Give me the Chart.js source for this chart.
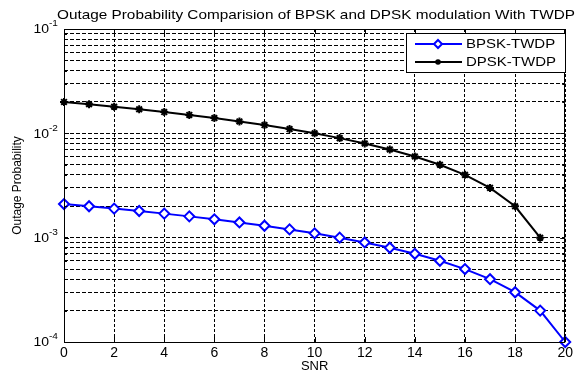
<!DOCTYPE html>
<html><head><meta charset="utf-8">
<script src="https://cdn.jsdelivr.net/npm/chart.js@4.4.0/dist/chart.umd.min.js"></script>
<style>html,body{margin:0;padding:0;background:#fff;overflow:hidden}canvas{display:block}</style>
</head><body>
<canvas id="c" width="576" height="374" style="width:576px;height:374px"></canvas>
<script>
// ---- data ----
const snr = [0,1,2,3,4,5,6,7,8,9,10,11,12,13,14,15,16,17,18,19,20];
const bpskTWDP = [0.0021,0.002,0.0019,0.0018,0.0017,0.0016,0.0015,0.0014,0.0013,0.0012,0.0011,0.001,0.0009,0.0008,0.0007,0.0006,0.0005,0.0004,0.0003,0.0002,0.0001];
const dpskTWDP = [0.02,0.019,0.018,0.017,0.016,0.015,0.014,0.013,0.012,0.011,0.010,0.009,0.008,0.007,0.006,0.005,0.004,0.003,0.002,0.001];
const xTickValues = [0,2,4,6,8,10,12,14,16,18,20];
const yGridValues = [1e-4,2e-4,3e-4,4e-4,5e-4,6e-4,7e-4,8e-4,9e-4,1e-3,2e-3,3e-3,4e-3,5e-3,6e-3,7e-3,8e-3,9e-3,1e-2,2e-2,3e-2,4e-2,5e-2,6e-2,7e-2,8e-2,9e-2,1e-1];
const yDecadeValues = [1e-1,1e-2,1e-3,1e-4];
const yDecadeExponents = ['-1','-2','-3','-4'];
const chartTitle = 'Outage Probability Comparision of BPSK and DPSK modulation With TWDP';
const seriesNames = ['BPSK-TWDP','DPSK-TWDP'];
const xAxisTitle = 'SNR';
const yAxisTitle = 'Outage Probability';

const FONT = '"Liberation Sans", Arial, sans-serif';
const BLUE = '#0000ff';

function toPoints(vals){ return vals.map((v,i)=>({x:snr[i], y:v})); }

function sText(ctx, txt, x, y, px, align, sx, baseline){
  ctx.save();
  ctx.font = px + 'px ' + FONT;
  ctx.fillStyle = '#000';
  ctx.textAlign = align;
  ctx.textBaseline = baseline || 'middle';
  ctx.translate(x, y);
  ctx.scale(sx, 1);
  ctx.fillText(txt, 0, 0);
  ctx.restore();
}

function diamond(ctx, x, y, r, stroke, fill, lw){
  ctx.save();
  ctx.beginPath();
  ctx.moveTo(x, y - r); ctx.lineTo(x + r, y); ctx.lineTo(x, y + r); ctx.lineTo(x - r, y); ctx.closePath();
  ctx.fillStyle = fill; ctx.fill();
  ctx.lineWidth = lw; ctx.strokeStyle = stroke; ctx.stroke();
  ctx.restore();
}

const decor = {
  id: 'decor',
  afterDraw(chart){
    const ctx = chart.ctx;
    const a = chart.chartArea;
    const xs = chart.scales.x, ys = chart.scales.y;
    ctx.save();
    // frame
    ctx.strokeStyle = '#000'; ctx.lineWidth = 1; ctx.setLineDash([]);
    ctx.strokeRect(Math.round(a.left) + 0.5, Math.round(a.top) + 0.5, Math.round(a.right - a.left) - 1, Math.round(a.bottom - a.top));
    // inward tick marks
    ctx.beginPath();
    xTickValues.forEach(v => {
      const px = Math.round(xs.getPixelForValue(v)) + 0.5;
      ctx.moveTo(px, a.bottom); ctx.lineTo(px, a.bottom - 5);
      ctx.moveTo(px, a.top); ctx.lineTo(px, a.top + 5);
    });
    yGridValues.forEach(v => {
      const py = Math.round(ys.getPixelForValue(v)) + 0.5;
      const len = yDecadeValues.includes(v) ? 5 : 3;
      ctx.moveTo(a.left, py); ctx.lineTo(a.left + len, py);
      ctx.moveTo(a.right, py); ctx.lineTo(a.right - len, py);
    });
    ctx.stroke();
    ctx.restore();

    // y decade labels 10^n
    yDecadeValues.forEach((v, i) => {
      const py = ys.getPixelForValue(v);
      sText(ctx, '10', 49, py + 1, 12.5, 'right', 1.12);
      sText(ctx, yDecadeExponents[i], 49, py - 5, 9, 'left', 1.12);
    });

    // title
    ctx.save();
    ctx.font = '13px ' + FONT;
    const w = ctx.measureText(chartTitle).width;
    ctx.restore();
    sText(ctx, chartTitle, 316, 15, 13, 'center', 518 / w);

    // legend
    const lx0 = 406.5, ly0 = 33.5, lx1 = 565.5, ly1 = 72.5;
    ctx.save();
    ctx.fillStyle = '#fff'; ctx.fillRect(lx0, ly0, lx1 - lx0, ly1 - ly0);
    ctx.strokeStyle = '#000'; ctx.lineWidth = 1; ctx.strokeRect(lx0, ly0, lx1 - lx0, ly1 - ly0);
    const rows = [44, 62];
    chart.data.datasets.forEach((ds, i) => {
      const y = rows[i];
      ctx.beginPath(); ctx.moveTo(415, y); ctx.lineTo(462, y);
      ctx.strokeStyle = ds.borderColor; ctx.lineWidth = 2; ctx.stroke();
      if (i === 0) diamond(ctx, 438, y, 4, ds.borderColor, '#fff', 2);
      else { ctx.beginPath(); ctx.arc(438, y, 2.8, 0, Math.PI * 2); ctx.fillStyle = '#000'; ctx.fill(); }
      sText(ctx, ds.label, 466, y + 1, 12.5, 'left', 1.2);
    });
    ctx.restore();
  }
};

new Chart(document.getElementById('c'), {
  type: 'line',
  data: {
    datasets: [
      { label: seriesNames[0], data: toPoints(bpskTWDP), borderColor: BLUE, backgroundColor: '#fff',
        borderWidth: 2, pointStyle: 'rectRot', pointRadius: 5, pointBorderWidth: 2,
        pointBackgroundColor: '#fff', pointBorderColor: BLUE, tension: 0, clip: false },
      { label: seriesNames[1], data: toPoints(dpskTWDP), borderColor: '#000', backgroundColor: '#000',
        borderWidth: 2, pointStyle: 'star', pointRadius: 4, pointBorderWidth: 2,
        pointBackgroundColor: '#000', pointBorderColor: '#000', tension: 0, clip: false }
    ]
  },
  options: {
    responsive: false,
    animation: false,
    devicePixelRatio: 1,
    layout: { padding: { top: 29, right: 3, left: 0, bottom: 0 } },
    plugins: { legend: { display: false }, title: { display: false }, tooltip: { enabled: false } },
    scales: {
      x: {
        type: 'linear', min: 0, max: 20,
        afterBuildTicks: s => { s.ticks = xTickValues.map(v => ({ value: v })); },
        afterFit: s => { s.height = 32; },
        grid: { color: '#000', lineWidth: 1, drawTicks: false },
        border: { display: false, dash: [3, 2] },
        ticks: { color: '#000', padding: 3, font: { family: FONT, size: 14 }, maxRotation: 0, autoSkip: false },
        title: { display: true, text: xAxisTitle, color: '#000', font: { family: FONT, size: 13 }, padding: { top: 0, bottom: 0 } }
      },
      y: {
        type: 'logarithmic', min: 1e-4, max: 1e-1,
        afterBuildTicks: s => { s.ticks = yGridValues.map(v => ({ value: v })); },
        afterFit: s => { s.width = 64; },
        grid: { color: '#000', lineWidth: 1, drawTicks: false },
        border: { display: false, dash: [4, 2] },
        ticks: { display: false },
        title: { display: true, text: yAxisTitle, color: '#000', font: { family: FONT, size: 12 }, padding: { top: 10, bottom: 0 } }
      }
    }
  },
  plugins: [decor]
});
</script>
</body></html>
